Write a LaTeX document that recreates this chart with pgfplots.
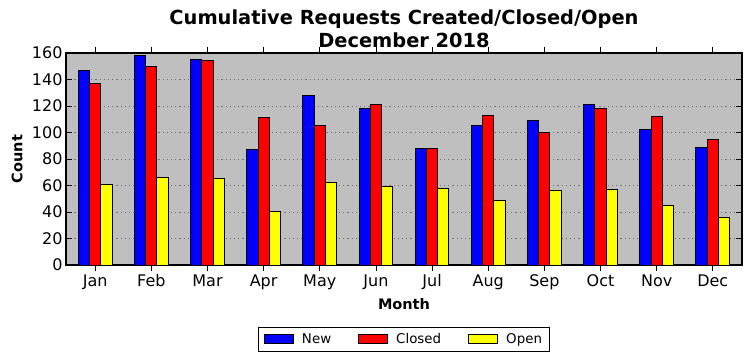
\documentclass[border=0pt]{standalone}
\usepackage{fontspec}
\setmainfont{DejaVu Sans}
\usepackage{pgfplots}
\pgfplotsset{compat=1.18}
\definecolor{bg}{gray}{0.75}
\definecolor{mplblue}{RGB}{0,0,255}
\definecolor{mplred}{RGB}{255,0,0}
\definecolor{mplyellow}{RGB}{255,255,0}

\begin{document}
\begin{tikzpicture}[x=1pt,y=1pt]
\useasboundingbox (-66,-96) rectangle (686,265);
\begin{axis}[
  at={(0,0)}, anchor=south west,
  scale only axis, width=676pt, height=212pt,
  xmin=-0.52, xmax=11.52, ymin=0, ymax=160,
  xtick={0,...,11},
  xticklabels={Jan,Feb,Mar,Apr,May,Jun,Jul,Aug,Sep,Oct,Nov,Dec},
  ytick={0,20,...,160},
  tick align=inside, xtick pos=both, ytick pos=both,
  major tick length=6pt,
  tick style={black, line width=0.8pt},
  axis line style={black, line width=1.2pt},
  ymajorgrids, grid style={dash pattern=on 1.2pt off 3pt, line width=0.9pt, black!55},
  axis background/.style={fill=bg},
  /pgf/number format/assume math mode=true,
  tick label style={font=\fontsize{16}{18}\selectfont},
  ybar, bar width=11.23pt,
  title={Cumulative Requests Created/Closed/Open\\December 2018},
  title style={font=\fontsize{19.4}{22.5}\selectfont\bfseries, align=center, at={(0.5,1)}, anchor=south, yshift=-4pt},
  xlabel={Month}, ylabel={Count},
  label style={font=\fontsize{14.5}{17}\selectfont\bfseries},
  xlabel style={at={(axis description cs:0.5,-0.183)}, anchor=center},
  ylabel style={at={(axis description cs:-0.0725,0.5)}, anchor=center},
  legend columns=3,
  legend image code/.code={\draw[#1] (0pt,-4.5pt) rectangle (29pt,4.5pt);},
  legend style={at={(0.5,-0.35)}, anchor=center, draw=black, line width=1pt,
    font=\fontsize{13.4}{16}\selectfont, inner xsep=5pt, inner ysep=4pt,
    /tikz/every odd column/.append style={column sep=6pt},
    /tikz/every even column/.append style={column sep=25pt}},
]
\addplot[fill=mplblue, draw=black, line width=1pt, bar shift=-11.23pt] coordinates {
(0,147) (1,158) (2,155) (3,87) (4,128) (5,118) (6,88) (7,105) (8,109) (9,121) (10,102) (11,89)};
\addplot[fill=mplred, draw=black, line width=1pt, bar shift=0pt] coordinates {
(0,137) (1,150) (2,154) (3,111) (4,105) (5,121) (6,88) (7,113) (8,100) (9,118) (10,112) (11,95)};
\addplot[fill=mplyellow, draw=black, line width=1pt, bar shift=11.23pt] coordinates {
(0,61) (1,66) (2,65) (3,40) (4,62) (5,59) (6,58) (7,49) (8,56) (9,57) (10,45) (11,36)};
\legend{New,Closed,Open}
\end{axis}
\end{tikzpicture}
\end{document}
